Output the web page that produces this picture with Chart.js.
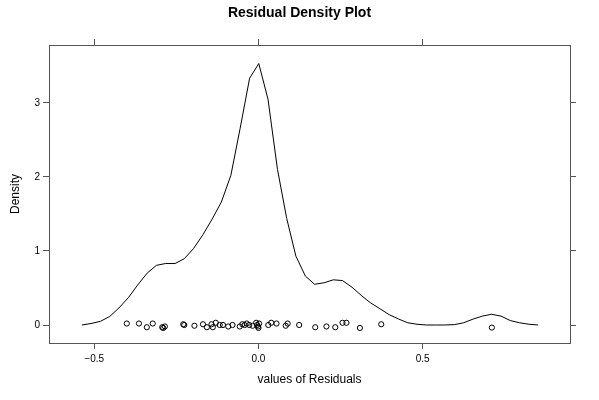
<!DOCTYPE html>
<html>
<head>
<meta charset="utf-8">
<script src="https://cdn.jsdelivr.net/npm/chart.js@4.4.1/dist/chart.umd.min.js"></script>
<style>
html,body{margin:0;padding:0;background:#fff;}
#wrap{width:599px;height:400px;}
</style>
</head>
<body>
<div id="wrap"><canvas id="c" width="599" height="400"></canvas></div>
<script>
// Density curve (x grid and density values)
const densX = [-0.538,-0.510,-0.481,-0.453,-0.425,-0.396,-0.368,-0.339,-0.311,-0.283,
  -0.254,-0.226,-0.198,-0.169,-0.141,-0.113,-0.084,-0.056,-0.027,0.001,
  0.029,0.058,0.086,0.114,0.143,0.171,0.200,0.228,0.256,0.285,
  0.313,0.341,0.370,0.398,0.427,0.455,0.483,0.512,0.540,0.568,
  0.597,0.625,0.654,0.682,0.710,0.739,0.767,0.795,0.824,0.852];
const densY = [0.00,0.02,0.05,0.115,0.23,0.37,0.54,0.70,0.805,0.83,
  0.83,0.895,1.03,1.22,1.43,1.66,2.02,2.65,3.33,3.53,
  3.05,2.10,1.44,0.93,0.66,0.55,0.57,0.61,0.60,0.51,
  0.40,0.30,0.22,0.14,0.08,0.03,0.01,0.00,0.00,0.00,
  0.005,0.03,0.08,0.12,0.145,0.12,0.06,0.03,0.01,0.00];
// Residuals (rug points) and their jittered heights
const residuals = [-0.401,-0.364,-0.340,-0.322,-0.293,-0.290,-0.285,-0.229,-0.226,-0.195,
  -0.169,-0.157,-0.143,-0.139,-0.130,-0.118,-0.108,-0.092,-0.079,-0.057,
  -0.049,-0.042,-0.036,-0.028,-0.018,-0.007,-0.004,-0.001,0.000,0.002,
  0.030,0.039,0.055,0.083,0.089,0.124,0.173,0.207,0.234,0.256,
  0.268,0.309,0.374,0.711];
const jitterY = [0.02,0.02,-0.03,0.02,-0.03,-0.04,-0.02,0.01,0.00,-0.01,
  0.01,-0.03,0.01,-0.03,0.03,0.00,0.00,-0.02,0.00,-0.02,
  0.01,0.00,0.02,0.00,-0.01,0.03,0.00,-0.02,-0.04,0.02,
  0.00,0.03,0.02,-0.01,0.02,0.00,-0.03,-0.02,-0.03,0.03,
  0.03,-0.04,0.01,-0.035];
// Axis ticks
const xTicks = [-0.5, 0.0, 0.5];
const xTickLabels = ['\u22120.5', '0.0', '0.5'];
const yTicks = [0, 1, 2, 3];
const yTickLabels = ['0', '1', '2', '3'];
const xRange = [-0.638, 0.949];
const yRange = [-0.243, 3.78];

const FONT = "'Liberation Sans', Arial, Helvetica, sans-serif";
const BOX = '#555';

const curve = densX.map((x, i) => ({x: x, y: densY[i]}));
const rug = residuals.map((x, i) => ({x: x, y: jitterY[i]}));

function setTicks(vals) {
  return function(scale) { scale.ticks = vals.map(v => ({value: v})); };
}
function labelFrom(vals, labels) {
  return function(value) { const i = vals.indexOf(value); return i >= 0 ? labels[i] : ''; };
}

const gridOut = {drawOnChartArea: false, drawTicks: true, tickLength: 6, color: BOX, lineWidth: 1};
const borderOpt = {display: true, color: BOX, width: 1};

new Chart(document.getElementById('c'), {
  type: 'scatter',
  data: {
    datasets: [
      {data: curve, showLine: true, borderColor: '#000', borderWidth: 1, pointRadius: 0,
       fill: false, tension: 0, xAxisID: 'x', yAxisID: 'y'},
      {data: rug, showLine: false, pointStyle: 'circle', pointRadius: 2.6,
       borderColor: '#000', borderWidth: 1, backgroundColor: 'rgba(0,0,0,0)',
       xAxisID: 'x', yAxisID: 'y'}
    ]
  },
  options: {
    responsive: false,
    animation: false,
    events: [],
    layout: {padding: 0},
    plugins: {
      legend: {display: false},
      tooltip: {enabled: false},
      title: {display: true, text: 'Residual Density Plot', color: '#000',
        font: {family: FONT, size: 14, weight: 'bold', lineHeight: 1.2},
        padding: {top: 5, bottom: 5}}
    },
    scales: {
      x: {type: 'linear', position: 'bottom', min: xRange[0], max: xRange[1],
        afterBuildTicks: setTicks(xTicks),
        afterFit: function(s) { s.height = 57; },
        grid: gridOut, border: borderOpt,
        ticks: {callback: labelFrom(xTicks, xTickLabels), color: '#000', padding: 4,
          maxRotation: 0, autoSkip: false, font: {family: FONT, size: 10}},
        title: {display: true, text: 'values of Residuals', color: '#000',
          font: {family: FONT, size: 12}, padding: {top: 0, bottom: 12.8}}
      },
      x2: {type: 'linear', position: 'top', min: xRange[0], max: xRange[1],
        afterBuildTicks: setTicks(xTicks),
        afterFit: function(s) { s.height = 18.2; },
        grid: gridOut, border: borderOpt,
        ticks: {display: false}
      },
      y: {type: 'linear', position: 'left', min: yRange[0], max: yRange[1],
        afterBuildTicks: setTicks(yTicks),
        afterFit: function(s) { s.width = 49; },
        grid: gridOut, border: borderOpt,
        ticks: {callback: labelFrom(yTicks, yTickLabels), color: '#000', padding: 3,
          autoSkip: false, font: {family: FONT, size: 10}},
        title: {display: true, text: 'Density', color: '#000',
          font: {family: FONT, size: 12}, padding: {top: 8.8, bottom: 0}}
      },
      y2: {type: 'linear', position: 'right', min: yRange[0], max: yRange[1],
        afterBuildTicks: setTicks(yTicks),
        afterFit: function(s) { s.width = 29; },
        grid: gridOut, border: borderOpt,
        ticks: {display: false}
      }
    }
  }
});
</script>
</body>
</html>
